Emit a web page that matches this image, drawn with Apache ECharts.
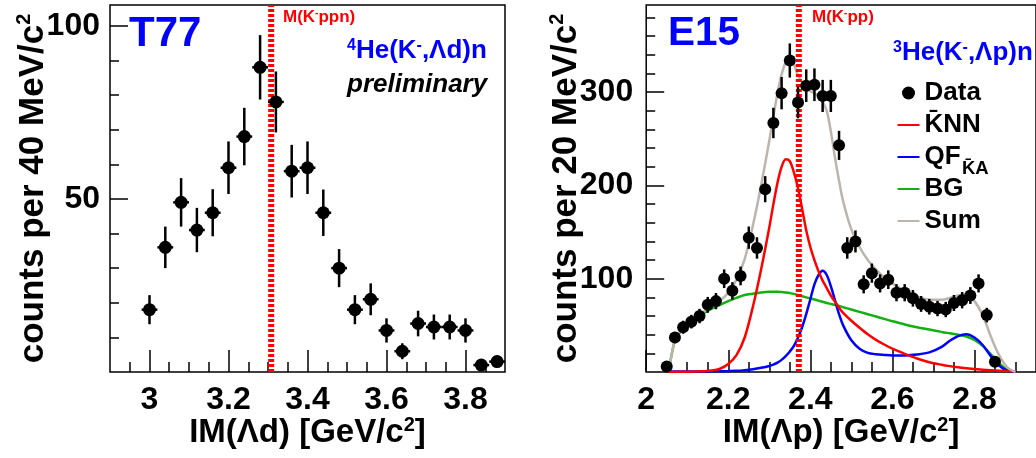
<!DOCTYPE html>
<html><head><meta charset="utf-8">
<script src="https://cdn.jsdelivr.net/npm/echarts@6/dist/echarts.min.js"></script>
<style>html,body{margin:0;padding:0;background:#fff}#c{width:1036px;height:458px}</style>
</head><body><div id="c"></div>
<script>
// ---------- T77 : 4He(K-, Lambda d)n ----------
const leftX   = [3.00,3.04,3.08,3.12,3.16,3.20,3.24,3.28,3.32,3.36,3.40,3.44,3.48,3.52,3.56,3.60,3.64,3.68,3.72,3.76,3.80,3.84,3.88];
const leftY   = [18,36,49,41,46,59,68,88,78,58,59,46,30,18,21,12,6,14,13,13,12,2,3];
const leftErr = [4.2,6,7,6.4,6.8,7.6,8.3,9.3,8.8,7.6,7.6,6.7,5.5,4.2,4.6,3.5,2.3,3.7,3.6,3.6,3.5,1.4,1.7];
const leftBinHalf = 0.02;
const leftMass = 3.308;
const leftXRange = [2.9, 3.9];
const leftYRange = [0, 106];
const leftXMajor = [3, 3.2, 3.4, 3.6, 3.8];
const leftXMinor = [2.95,3.05,3.1,3.15,3.25,3.3,3.35,3.45,3.5,3.55,3.65,3.7,3.75,3.85];
const leftYMajor = [50, 100];
const leftYMinor = [10,20,30,40,60,70,80,90];

// ---------- E15 : 3He(K-, Lambda p)n ----------
const rightX   = [2.05,2.07,2.09,2.11,2.13,2.15,2.17,2.19,2.21,2.23,2.25,2.27,2.29,2.31,2.33,2.35,2.37,2.39,2.41,2.43,2.45,2.47,2.49,2.51,2.53,2.55,2.57,2.59,2.61,2.63,2.65,2.67,2.69,2.71,2.73,2.75,2.77,2.79,2.81,2.83,2.85];
const rightY   = [6,37,48,54,60,72,76,100,87,103,144,133,196,267,299,334,289,307,308,296,296,243,133,140,94,106,95,99,85,85,79,73,70,68,67,74,77,82,95,61,11];
const rightErr = [2.5,6,7,7.3,7.7,8.5,8.7,10,9.3,10,12,11.5,14,16.3,17.3,18.3,17,17.5,17.5,17.2,17.2,15.6,11.5,11.8,9.7,10.3,9.7,10,9.2,9.2,8.9,8.5,8.4,8.2,8.2,8.6,8.8,9,9.7,7.8,3.3];
const rightBinHalf = 0.01;
const rightMass = 2.372;
const rightXRange = [2.0, 2.95];
const rightYRange = [0, 393.5];
const rightXMajor = [2, 2.2, 2.4, 2.6, 2.8];
const rightXMinor = [2.05,2.1,2.15,2.25,2.3,2.35,2.45,2.5,2.55,2.65,2.7,2.75,2.85,2.9];
const rightYMajor = [100, 200, 300];
const rightYMinor = [20,40,60,80,120,140,160,180,220,240,260,280,320,340,360,380];

// fit curves
const curveX = [2.054,2.06,2.07,2.08,2.10,2.12,2.14,2.16,2.18,2.20,2.22,2.24,2.26,2.28,2.30,2.31,2.32,2.33,2.34,2.35,2.36,2.37,2.38,2.39,2.40,2.41,2.42,2.43,2.44,2.45,2.46,2.47,2.48,2.50,2.52,2.54,2.56,2.58,2.60,2.63,2.66,2.69,2.72,2.74,2.76,2.78,2.80,2.82,2.84,2.86,2.88,2.90];
const knnY = [0,0.1,0.1,0.2,0.3,0.5,0.8,1.5,3.5,8.5,18,37,70,110,155,180,203,220,228,226,214,197,175,152,134,120,108,98,90,82,75.5,69,63.5,55,47.5,40.5,34.5,29.5,25,19.5,14.5,10.5,7.8,6.3,5,4,3.2,2.4,1.8,1.3,1,0.7];
const qfY  = [0,0.5,0.5,0.5,0.5,0.5,0.6,0.7,0.8,1,1.3,2,3,4.5,6.5,8,10,13,17,22,28,37,48,62,78,94,104,108.5,104,92,77,62,50,34,25,20.5,19,18.3,17.8,17.8,18.7,21,27,33.5,38.5,40.5,37,29,17,7,1.5,0];
const bgY  = [0,14,34,41,50,57,63,68,72,76,79.5,82.5,84,85.3,86,86,86,85.7,85.2,84.6,83.8,82.5,81.3,80,79,77.7,76.5,75.3,74,73,72,70.8,69.5,67,64.5,62,59.5,57,54.5,51,48,45.5,43,41.5,40,38,34.5,28,19,9.5,2.5,0];
const sumY = [0,14,34,41.5,51,58,64.5,70.5,76.5,85,99,121,157,200,248,274,299,319,332,336,330,318,311,305,301,299,296,290,280,258,230,205,183,153,134,120,110,101,95,87,81,77.5,77.5,79.5,82,83,76,61,38,18,5,0];

const FONT = '"Liberation Sans", Arial, Helvetica, sans-serif';
const fnt = (size, style) => `${style || 'normal'} bold ${size}px ${FONT}`;
const BLACK = '#000';

function pts(xs, ys) { return xs.map((x, i) => [x, ys[i]]); }
function errData(xs, ys, es) { return xs.map((x, i) => [x, ys[i], es[i]]); }

function errorBars(xi, yi, data, half, lw) {
  return {
    type: 'custom', xAxisIndex: xi, yAxisIndex: yi, data: data, z: 4, silent: true,
    encode: { x: 0, y: 1 },
    renderItem: function (params, api) {
      const x = api.value(0), y = api.value(1), e = api.value(2);
      const t = api.coord([x, y + e]), b = api.coord([x, y - e]);
      const l = api.coord([x - half, y]), r = api.coord([x + half, y]);
      const st = { stroke: BLACK, lineWidth: lw };
      return { type: 'group', children: [
        { type: 'line', shape: { x1: t[0], y1: t[1], x2: b[0], y2: b[1] }, style: st },
        { type: 'line', shape: { x1: l[0], y1: l[1], x2: r[0], y2: r[1] }, style: st }
      ]};
    }
  };
}

const nameStyle = (size) => ({
  fontSize: size, fontWeight: 'bold', fontFamily: FONT, color: BLACK, lineHeight: size + 3,
  rich: { sup: { fontSize: 20, fontWeight: 'bold', fontFamily: FONT, color: BLACK, lineHeight: 20, verticalAlign: 'top' } }
});
const tickLine = { color: BLACK, width: 1.5 };

function xMain(g, rng, majors, name) {
  return { type: 'value', gridIndex: g, min: rng[0], max: rng[1], position: 'bottom',
    name: name, nameLocation: 'middle', nameGap: 43, nameTextStyle: nameStyle(33), nameMoveOverlap: false,
    axisLine: { show: false }, splitLine: { show: false },
    axisTick: { show: true, inside: true, length: 22, customValues: majors, lineStyle: tickLine },
    axisLabel: { customValues: majors, margin: 12, fontSize: 32, fontWeight: 'bold', color: BLACK, fontFamily: FONT } };
}
function xMinor(g, rng, minors) {
  return { type: 'value', gridIndex: g, min: rng[0], max: rng[1], position: 'bottom',
    axisLine: { show: false }, splitLine: { show: false },
    axisTick: { show: true, inside: true, length: 10, customValues: minors, lineStyle: tickLine },
    axisLabel: { show: false } };
}
function yMain(g, rng, majors, name, gap, margin) {
  return { type: 'value', gridIndex: g, min: rng[0], max: rng[1], position: 'left',
    name: name, nameLocation: 'middle', nameGap: gap, nameTextStyle: nameStyle(35), nameMoveOverlap: false,
    axisLine: { show: false }, splitLine: { show: false },
    axisTick: { show: true, inside: true, length: 18, customValues: majors, lineStyle: tickLine },
    axisLabel: { customValues: majors, margin: margin, fontSize: 32, fontWeight: 'bold', color: BLACK, fontFamily: FONT } };
}
function yMinor(g, rng, minors) {
  return { type: 'value', gridIndex: g, min: rng[0], max: rng[1], position: 'left',
    axisLine: { show: false }, splitLine: { show: false },
    axisTick: { show: true, inside: true, length: 9, customValues: minors, lineStyle: tickLine },
    axisLabel: { show: false } };
}

function massLine(xi, yi, m, rng) {
  return { type: 'line', xAxisIndex: xi, yAxisIndex: yi, data: [[m, rng[0]], [m, rng[1]]],
    symbol: 'none', silent: true, z: 3, animation: false,
    lineStyle: { color: '#ff0000', width: 6, type: [3, 2], cap: 'butt' } };
}
function curve(name, xs, ys, color) {
  return { type: 'line', name: name, xAxisIndex: 2, yAxisIndex: 2, data: pts(xs, ys),
    symbol: 'none', smooth: 0.3, z: 2, silent: true,
    lineStyle: { color: color, width: 2.5 }, itemStyle: { color: color } };
}

function label(x, y, text, size, color, italic) {
  const st = { text: text, font: fnt(size, italic ? 'italic' : 'normal'), fill: color, verticalAlign: 'middle', lineHeight: size };
  if (text.indexOf('{s|') >= 0) {
    const ss = Math.round(size * 0.6);
    st.rich = { s: { font: fnt(ss), fill: color, lineHeight: ss, verticalAlign: 'top' } };
  }
  return { type: 'text', x: x, y: y, z: 20, silent: true, style: st };
}

const hideDot = { opacity: 0 };
const chart = echarts.init(document.getElementById('c'), null, { renderer: 'canvas' });
chart.setOption({
  animation: false,
  backgroundColor: '#fff',
  grid: [
    { left: 110, top: 5, width: 395, height: 367, show: true, borderColor: BLACK, borderWidth: 1.5, backgroundColor: 'transparent' },
    { left: 646.2, top: 5, width: 391.4, height: 367, show: true, borderColor: BLACK, borderWidth: 1.5, backgroundColor: 'transparent' }
  ],
  xAxis: [
    xMain(0, leftXRange, leftXMajor, 'IM(\u039bd) [GeV/c{sup|2}]'),
    xMinor(0, leftXRange, leftXMinor),
    xMain(1, rightXRange, rightXMajor, 'IM(\u039bp) [GeV/c{sup|2}]'),
    xMinor(1, rightXRange, rightXMinor)
  ],
  yAxis: [
    yMain(0, leftYRange, leftYMajor, 'counts per 40 MeV/c{sup|2}', 58, 10),
    yMinor(0, leftYRange, leftYMinor),
    yMain(1, rightYRange, rightYMajor, 'counts per 20 MeV/c{sup|2}', 61, 13),
    yMinor(1, rightYRange, rightYMinor)
  ],
  legend: {
    left: 896.5, top: 77, orient: 'vertical', padding: 0, itemGap: 0,
    itemWidth: 22, itemHeight: 13, selectedMode: false,
    textStyle: { fontSize: 26, fontWeight: 'bold', fontFamily: FONT, color: BLACK, lineHeight: 32 },
    data: [
      { name: 'Data', icon: 'circle', itemStyle: { color: BLACK, opacity: 1 } },
      { name: 'K\u0304NN', itemStyle: hideDot },
      { name: 'QF', itemStyle: hideDot },
      { name: 'BG', itemStyle: hideDot },
      { name: 'Sum', itemStyle: hideDot }
    ]
  },
  series: [
    massLine(0, 0, leftMass, leftYRange),
    errorBars(0, 0, errData(leftX, leftY, leftErr), leftBinHalf, 2.5),
    { type: 'scatter', name: 'T77 data', xAxisIndex: 0, yAxisIndex: 0, data: pts(leftX, leftY),
      symbol: 'circle', symbolSize: 13, itemStyle: { color: BLACK, opacity: 1 }, z: 5, silent: true },

    curve('BG', curveX, bgY, '#12b012'),
    curve('QF', curveX, qfY, '#0000ff'),
    curve('K\u0304NN', curveX, knnY, '#ff0000'),
    curve('Sum', curveX, sumY, '#bdb5ad'),
    massLine(2, 2, rightMass, rightYRange),
    errorBars(2, 2, errData(rightX, rightY, rightErr), rightBinHalf, 2.5),
    { type: 'scatter', name: 'Data', xAxisIndex: 2, yAxisIndex: 2, data: pts(rightX, rightY),
      symbol: 'circle', symbolSize: 12, itemStyle: { color: BLACK, opacity: 1 }, z: 5, silent: true }
  ],
  graphic: [
    label(129, 34, 'T77', 42, '#0000ff'),
    label(668, 34, 'E15', 40.5, '#0000ff'),
    label(283, 17.2, 'M(K{s|-}ppn)', 17, '#ff0000'),
    label(812, 17.2, 'M(K{s|-}pp)', 17, '#ff0000'),
    label(347, 50.7, '{s|4}He(K{s|-},\u039bd)n', 26, '#0000ff'),
    label(893, 52.7, '{s|3}He(K{s|-},\u039bp)n', 26, '#0000ff'),
    label(347, 84.5, 'preliminary', 26, BLACK, true),
    label(962, 169, 'K\u0304A', 18.5, BLACK)
  ]
});
</script></body></html>
